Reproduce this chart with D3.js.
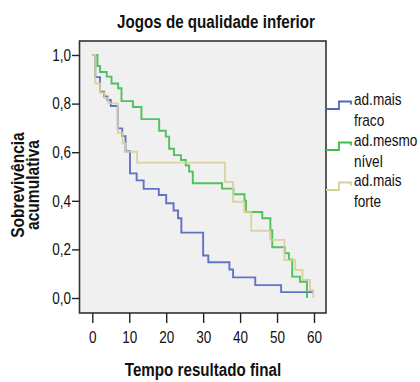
<!DOCTYPE html>
<html>
<head>
<meta charset="utf-8">
<script src="https://cdn.jsdelivr.net/npm/d3@7"></script>
<style>
  html, body { margin: 0; padding: 0; background: #ffffff; }
  svg text { font-family: "Liberation Sans", Arial, sans-serif; fill: #111; }
</style>
</head>
<body>
<svg id="chart" width="420" height="382"></svg>
<script>
// Kaplan-Meier estimates: event times (minutes) and survival after each event
const groupNames = ["ad.mais fraco", "ad.mesmo nível", "ad.mais forte"];
const legendLines = [["ad.mais", "fraco"], ["ad.mesmo", "nível"], ["ad.mais", "forte"]];
const groupColors = ["#5066c2", "#3dbd4a", "#d6d098"];

const fracoTimes = [0.8, 2.1, 3.2, 4.1, 5.0, 6.9, 8.1, 9.0, 10.2, 12.0, 13.9, 18.0, 20.0, 22.0, 23.2, 24.1, 30.0, 31.4, 37.1, 38.1, 44.1, 51.1];
const fracoSurv  = [0.909, 0.849, 0.829, 0.815, 0.790, 0.698, 0.666, 0.604, 0.513, 0.484, 0.449, 0.424, 0.390, 0.360, 0.328, 0.269, 0.175, 0.147, 0.117, 0.085, 0.053, 0.024];
const fracoEnd = 59.8;

const mesmoTimes = [1.4, 2.1, 3.9, 5.2, 7.0, 7.9, 11.0, 13.3, 18.1, 19.9, 20.8, 22.1, 24.0, 25.3, 26.2, 27.2, 35.1, 38.2, 41.2, 41.6, 46.0, 48.2, 48.7, 52.1, 53.2, 54.1, 56.2, 58.1];
const mesmoSurv  = [0.955, 0.930, 0.911, 0.883, 0.863, 0.810, 0.786, 0.736, 0.688, 0.664, 0.614, 0.588, 0.568, 0.545, 0.520, 0.472, 0.450, 0.427, 0.400, 0.354, 0.328, 0.279, 0.209, 0.184, 0.159, 0.088, 0.067, 0.0];
const mesmoEnd = 58.1;

const forteTimes = [0.8, 2.1, 3.3, 4.3, 6.9, 8.2, 9.0, 12.1, 35.9, 38.1, 41.1, 43.0, 48.1, 52.0, 54.9, 56.9, 58.9, 59.8];
const forteSurv  = [0.883, 0.845, 0.823, 0.801, 0.680, 0.637, 0.602, 0.557, 0.478, 0.396, 0.355, 0.277, 0.239, 0.156, 0.115, 0.074, 0.033, 0.0];
const forteEnd = 59.8;

const xTicks = [0, 10, 20, 30, 40, 50, 60];
const yTicks = [0, 0.2, 0.4, 0.6, 0.8, 1.0];

const chartTitle = "Jogos de qualidade inferior";
const xTitle = "Tempo resultado final";
const yTitleLines = ["Sobrevivência", "acumulativa"];

// ---- layout ----
const svg = d3.select("#chart");
const frame = { left: 79.5, top: 41, right: 326, bottom: 313 };
const NARROW = 0.82;   // horizontal compression giving a narrow face

const x = d3.scaleLinear().domain([0, 60]).range([92.3, 314]);
const y = d3.scaleLinear().domain([0, 1]).range([298, 55]);

// places a horizontally compressed text at (tx, ty), optionally rotated
function narrowText(parent, tx, ty, str, size, opts = {}) {
  const rot = opts.rotate || 0;
  return parent.append("text")
    .attr("transform", `translate(${tx},${ty}) rotate(${rot}) scale(${opts.squeeze || NARROW},1)`)
    .attr("text-anchor", opts.anchor || "start")
    .style("font-size", size + "px")
    .style("font-weight", opts.bold ? "bold" : "normal")
    .text(str);
}

// compress the tick labels that d3.axis has placed
function squeezeTicks(g) {
  g.selectAll(".tick text").each(function () {
    const t = d3.select(this);
    const tx = +t.attr("x") || 0, ty = +t.attr("y") || 0;
    t.attr("x", 0).attr("y", 0)
     .attr("transform", `translate(${tx},${ty}) scale(${NARROW},1)`);
  });
}

// plot background and frame
svg.append("rect")
  .attr("x", frame.left).attr("y", frame.top)
  .attr("width", frame.right - frame.left).attr("height", frame.bottom - frame.top)
  .attr("fill", "#f0f0f0").attr("stroke", "#333").attr("stroke-width", 1.6);

// axes
const fmt = d => d3.format(".1f")(d).replace(".", ",");

const yAxis = d3.axisLeft(y).tickValues(yTicks).tickFormat(fmt).tickSize(7.5).tickPadding(1);
const gy = svg.append("g").attr("transform", `translate(${frame.left},0)`).call(yAxis);
gy.select(".domain").remove();
gy.selectAll(".tick line").attr("stroke", "#222").attr("stroke-width", 1.4);
gy.selectAll(".tick text").style("font-size", "16.5px").attr("fill", "#111");
squeezeTicks(gy);

const xAxis = d3.axisBottom(x).tickValues(xTicks).tickFormat(d3.format("d")).tickSize(10).tickPadding(8);
const gx = svg.append("g").attr("transform", `translate(0,${frame.bottom})`).call(xAxis);
gx.select(".domain").remove();
gx.selectAll(".tick line").attr("stroke", "#222").attr("stroke-width", 1.4);
gx.selectAll(".tick text").style("font-size", "16.5px").attr("fill", "#111");
squeezeTicks(gx);

// survival step curves
function stepPoints(times, surv, end) {
  const pts = [[0, 1]];
  times.forEach((t, i) => pts.push([t, surv[i]]));
  pts.push([end, surv[surv.length - 1]]);
  return pts;
}
const line = d3.line().x(d => x(d[0])).y(d => y(d[1])).curve(d3.curveStepAfter);

const series = [
  stepPoints(fracoTimes, fracoSurv, fracoEnd),
  stepPoints(mesmoTimes, mesmoSurv, mesmoEnd),
  stepPoints(forteTimes, forteSurv, forteEnd)
];

svg.append("g").selectAll("path").data(series).join("path")
  .attr("d", line)
  .attr("fill", "none")
  .attr("stroke", (d, i) => groupColors[i])
  .attr("stroke-width", 1.9)
  .attr("stroke-opacity", 0.9);

// legend
const legendY = [109, 150, 190];
const lg = svg.append("g");
legendY.forEach((ly, i) => {
  lg.append("path")
    .attr("d", `M326,${ly} H339 V${ly - 7.5} H351 V${ly - 4.5}`)
    .attr("fill", "none").attr("stroke", groupColors[i]).attr("stroke-width", 1.8);
  narrowText(lg, 354, ly - 4, legendLines[i][0], 16, { squeeze: 0.85 });
  narrowText(lg, 354, ly + 17, legendLines[i][1], 16, { squeeze: 0.85 });
});

// titles
narrowText(svg, 216, 28, chartTitle, 18.5, { bold: true, anchor: "middle" });
narrowText(svg, 203, 376, xTitle, 18.5, { bold: true, anchor: "middle" });
narrowText(svg, 23.5, 185, yTitleLines[0], 19, { bold: true, anchor: "middle", rotate: -90 });
narrowText(svg, 38.5, 185, yTitleLines[1], 19, { bold: true, anchor: "middle", rotate: -90 });
</script>
</body>
</html>
